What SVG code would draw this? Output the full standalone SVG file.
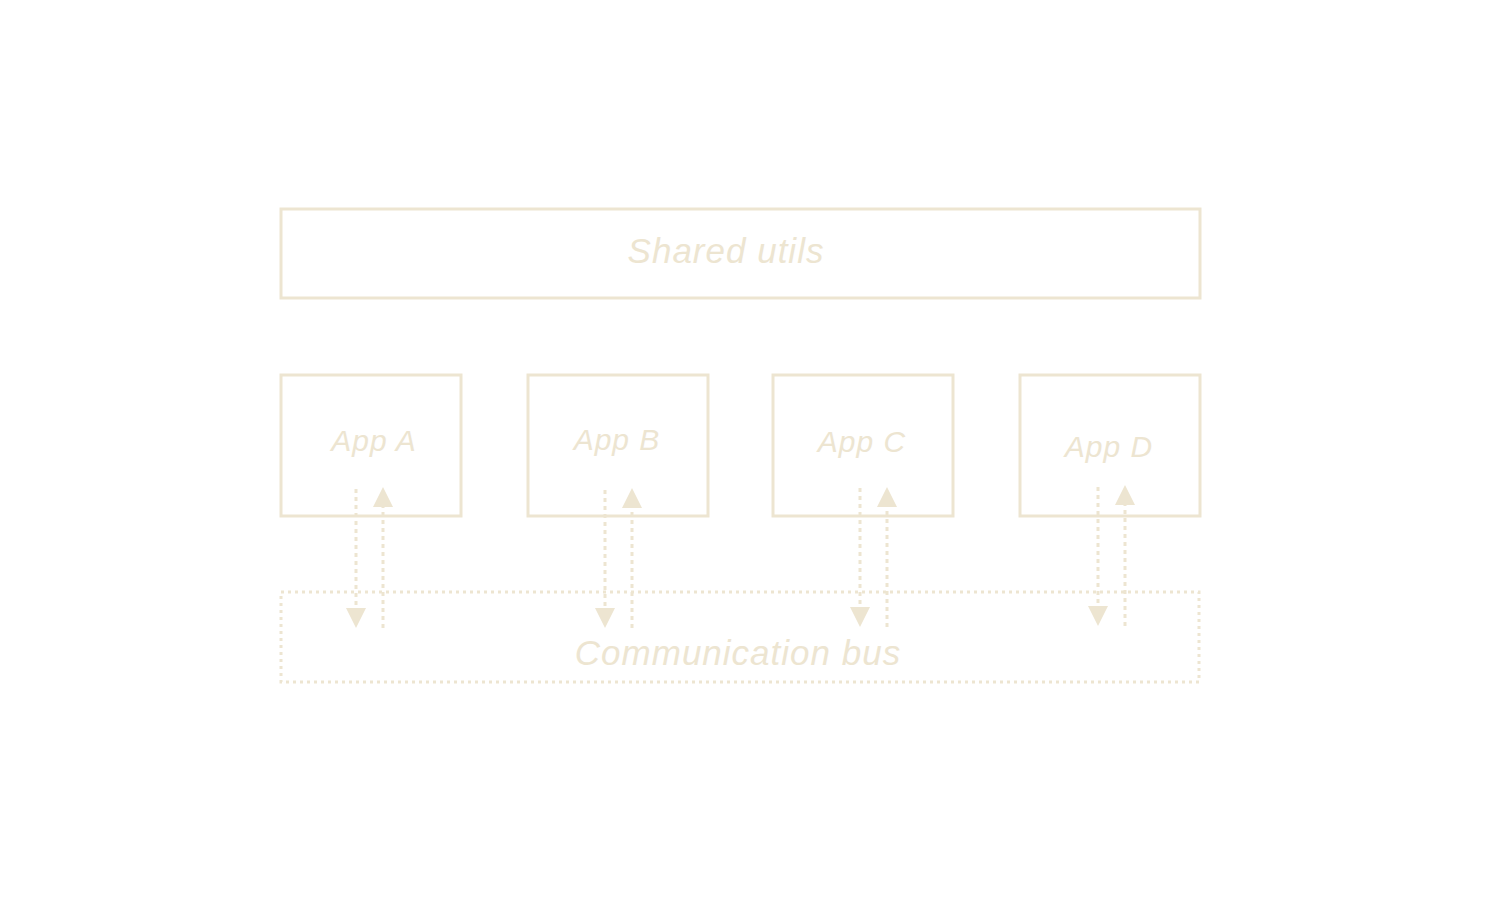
<svg xmlns="http://www.w3.org/2000/svg" width="1500" height="900" viewBox="0 0 1500 900">
<style>
.box{fill:none;stroke:#ede5d1;stroke-width:3}
.bus{fill:none;stroke:#ede5d1;stroke-width:3;stroke-dasharray:3 4}
.ln{fill:none;stroke:#ede5d1;stroke-width:3;stroke-dasharray:4 4}
.head{fill:#ede5d1}
.t{font-family:"Comic Sans MS","Liberation Sans",sans-serif;font-style:italic;fill:#ede5d1;text-anchor:middle;letter-spacing:1px}
</style>
<rect width="1500" height="900" fill="#ffffff"/>
<g id="shared">
<rect class="box" x="281" y="209" width="919" height="89"/>
<text class="t" x="726" y="263" font-size="35">Shared utils</text>
</g>
<g id="appA">
<rect class="box" x="281" y="375" width="180" height="141"/>
<text class="t" x="374" y="451" font-size="30">App A</text>
</g>
<g id="appB">
<rect class="box" x="528" y="375" width="180" height="141"/>
<text class="t" x="617" y="450" font-size="30">App B</text>
</g>
<g id="appC">
<rect class="box" x="773" y="375" width="180" height="141"/>
<text class="t" x="862" y="452" font-size="30">App C</text>
</g>
<g id="appD">
<rect class="box" x="1020" y="375" width="180" height="141"/>
<text class="t" x="1109" y="457" font-size="30">App D</text>
</g>
<g id="bus">
<rect class="bus" x="281" y="592" width="918" height="90"/>
<text class="t" x="738" y="665" font-size="35">Communication bus</text>
</g>
<g id="connectors">
<path class="ln" d="M356 489V608"/><polygon class="head" points="346,608 366,608 356,628"/>
<path class="ln" d="M383 628V507"/><polygon class="head" points="373,507 393,507 383,487"/>
<path class="ln" d="M605 490V608"/><polygon class="head" points="595,608 615,608 605,628"/>
<path class="ln" d="M632 628V508"/><polygon class="head" points="622,508 642,508 632,488"/>
<path class="ln" d="M860 488V607"/><polygon class="head" points="850,607 870,607 860,627"/>
<path class="ln" d="M887 627V507"/><polygon class="head" points="877,507 897,507 887,487"/>
<path class="ln" d="M1098 487V606"/><polygon class="head" points="1088,606 1108,606 1098,626"/>
<path class="ln" d="M1125 626V505"/><polygon class="head" points="1115,505 1135,505 1125,485"/>
</g>
</svg>
